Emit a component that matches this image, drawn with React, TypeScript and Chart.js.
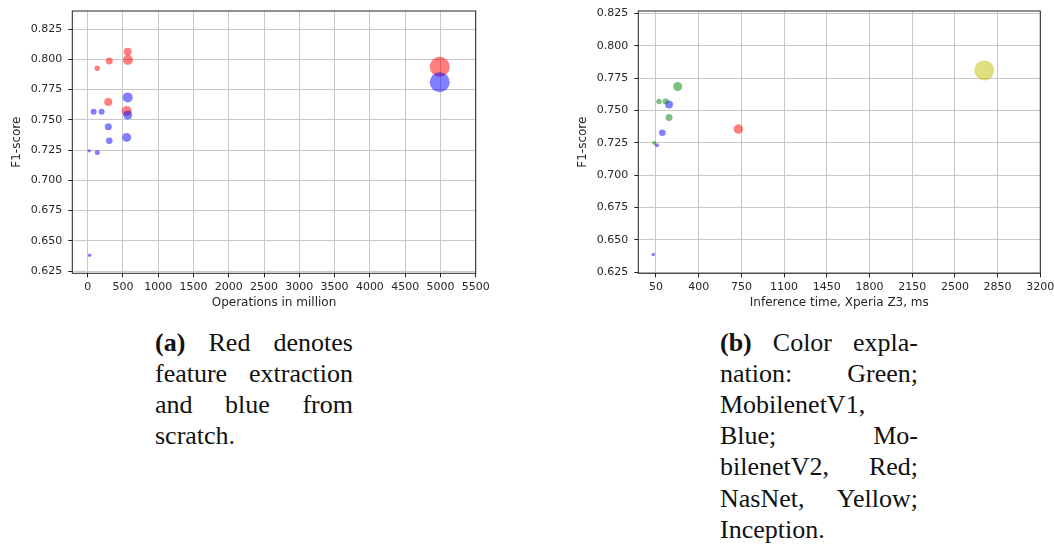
import React, { useEffect, useRef } from "react";
import { Chart, registerables } from "chart.js";
Chart.register(...registerables);

// ---------- Chart (a): Operations in million vs F1-score ----------
const opsTicks = [0, 500, 1000, 1500, 2000, 2500, 3000, 3500, 4000, 4500, 5000, 5500];
const f1TicksA = [0.625, 0.65, 0.675, 0.7, 0.725, 0.75, 0.775, 0.8, 0.825];

// red: feature extraction
const featOps = [567, 570, 136, 306, 292, 553, 4990];
const featF1 = [0.8063, 0.7994, 0.7926, 0.7986, 0.7647, 0.7572, 0.7938];
const featSize = [4, 5, 2.7, 3.5, 4, 5, 10];

// blue: from scratch
const scratchOps = [567, 85, 198, 567, 292, 306, 553, 23, 136, 28, 4990];
const scratchF1 = [0.7685, 0.7566, 0.7566, 0.7539, 0.7442, 0.7326, 0.7354, 0.7243, 0.723, 0.638, 0.781];
const scratchSize = [5, 3, 3, 4.5, 3.5, 3.3, 4.5, 1.7, 2.5, 1.7, 10];

// ---------- Chart (b): Inference time vs F1-score ----------
const timeTicks = [50, 400, 750, 1100, 1450, 1800, 2150, 2500, 2850, 3200];
const f1TicksB = [0.625, 0.65, 0.675, 0.7, 0.725, 0.75, 0.775, 0.8, 0.825];

const v1Time = [228, 75, 129, 157, 36];
const v1F1 = [0.7685, 0.7569, 0.7571, 0.7446, 0.7248];
const v1Size = [4.5, 2.7, 3, 3.5, 2];

const v2Time = [157, 102, 58, 28];
const v2F1 = [0.7546, 0.7328, 0.7232, 0.6387];
const v2Size = [4, 3.3, 2, 1.7];

const nasTime = [725];
const nasF1 = [0.7356];
const nasSize = [4.7];

const incTime = [2741];
const incF1 = [0.7809];
const incSize = [10];

const TICK_FONT = { family: "'DejaVu Sans', sans-serif", size: 11 };
const TITLE_FONT = { family: "'DejaVu Sans', sans-serif", size: 12 };
const TEXT = "#262626";

const pts = (xs: number[], ys: number[]) => xs.map((x, i) => ({ x, y: ys[i] }));

const frame = {
  id: "frame",
  afterDatasetsDraw(chart: any) {
    const { ctx, chartArea: a } = chart;
    ctx.save();
    ctx.strokeStyle = "#222";
    ctx.lineWidth = 1;
    ctx.strokeRect(a.left, a.top, a.right - a.left, a.bottom - a.top);
    ctx.restore();
  },
};

type Cfg = {
  datasets: any[];
  xTicks: number[];
  yTicks: number[];
  xMin: number;
  xMax: number;
  yMin: number;
  yMax: number;
  xTitle: string;
  yAxisWidth: number;
  yTitlePad: number;
  padRight: number;
};

function ScatterPanel({ cfg, width, height, left }: { cfg: Cfg; width: number; height: number; left: number }) {
  const ref = useRef<HTMLCanvasElement>(null);
  useEffect(() => {
    const zeroPad = (s: any) => {
      s.paddingLeft = 0;
      s.paddingRight = 0;
      s.paddingTop = 0;
      s.paddingBottom = 0;
    };
    const chart = new Chart(ref.current!, {
      type: "scatter",
      data: { datasets: cfg.datasets },
      plugins: [frame],
      options: {
        responsive: false,
        animation: false,
        layout: { padding: { top: 11, right: cfg.padRight, left: 0, bottom: 0 } },
        plugins: { legend: { display: false }, tooltip: { enabled: false } },
        elements: { point: { borderWidth: 0, hoverRadius: 0 } },
        scales: {
          x: {
            type: "linear",
            min: cfg.xMin,
            max: cfg.xMax,
            afterBuildTicks: (s: any) => {
              s.ticks = cfg.xTicks.map((v) => ({ value: v }));
            },
            afterFit: (s: any) => {
              s.height = height - 273.3;
              zeroPad(s);
            },
            border: { display: false },
            grid: { color: "#c8c8c8", lineWidth: 1, tickColor: "#222", tickLength: 4 },
            ticks: {
              font: TICK_FONT,
              color: TEXT,
              padding: 3,
              maxRotation: 0,
              autoSkip: false,
              callback: (v: any) => String(v),
            },
            title: { display: true, text: cfg.xTitle, font: TITLE_FONT, color: TEXT, padding: { top: 0, bottom: 4.8 } },
          },
          y: {
            type: "linear",
            min: cfg.yMin,
            max: cfg.yMax,
            afterBuildTicks: (s: any) => {
              s.ticks = cfg.yTicks.map((v) => ({ value: v }));
            },
            afterFit: (s: any) => {
              s.width = cfg.yAxisWidth;
              zeroPad(s);
            },
            border: { display: false },
            grid: { color: "#c8c8c8", lineWidth: 1, tickColor: "#222", tickLength: 4 },
            ticks: {
              font: TICK_FONT,
              color: TEXT,
              padding: 6,
              autoSkip: false,
              callback: (v: any) => Number(v).toFixed(3),
            },
            title: { display: true, text: "F1-score", font: TITLE_FONT, color: TEXT, padding: { top: cfg.yTitlePad, bottom: 0 } },
          },
        },
      },
    } as any);
    return () => chart.destroy();
  }, []);
  return (
    <canvas
      ref={ref}
      width={width}
      height={height}
      style={{ position: "absolute", left, top: 0, width, height, display: "block" }}
    />
  );
}

const ds = (xs: number[], ys: number[], r: number[], color: string) => ({
  data: pts(xs, ys),
  pointRadius: r,
  backgroundColor: color,
  borderWidth: 0,
});

const RED = "rgba(255,0,0,0.5)";
const BLUE = "rgba(0,0,255,0.5)";
const GREEN = "rgba(0,128,0,0.5)";
const YELLOW = "rgba(191,191,0,0.5)";

const cfgA: Cfg = {
  datasets: [ds(scratchOps, scratchF1, scratchSize, BLUE), ds(featOps, featF1, featSize, RED)],
  xTicks: opsTicks,
  yTicks: f1TicksA,
  xMin: -218,
  xMax: 5500,
  yMin: 0.6231,
  yMax: 0.8399,
  xTitle: "Operations in million",
  yAxisWidth: 72.3,
  yTitlePad: 9.5,
  padRight: 490 - 475.7,
};

const cfgB: Cfg = {
  datasets: [
    ds(v1Time, v1F1, v1Size, GREEN),
    ds(v2Time, v2F1, v2Size, BLUE),
    ds(nasTime, nasF1, nasSize, RED),
    ds(incTime, incF1, incSize, YELLOW),
  ],
  xTicks: timeTicks,
  yTicks: f1TicksB,
  xMin: -95,
  xMax: 3200,
  yMin: 0.6242,
  yMax: 0.8268,
  xTitle: "Inference time, Xperia Z3, ms",
  yAxisWidth: 68.3,
  yTitlePad: 6.1,
  padRight: 1054 - 570 - (1040.3 - 570),
};

const captionA = [["(a)", " Red denotes"], ["", "feature extraction"], ["", "and blue from"], ["", "scratch."]];
const captionB = [
  ["(b)", " Color expla-"],
  ["", "nation: Green;"],
  ["", "MobilenetV1,"],
  ["", "Blue; Mo-"],
  ["", "bilenetV2, Red;"],
  ["", "NasNet, Yellow;"],
  ["", "Inception."],
];

function Caption({ lines, left }: { lines: string[][]; left: number }) {
  return (
    <div
      style={{
        position: "absolute",
        left,
        top: 326.5,
        width: 198,
        fontFamily: "'Liberation Serif', 'Times New Roman', serif",
        fontSize: 26,
        lineHeight: "31.2px",
        color: "#111",
      }}
    >
      {lines.map((l, i) => {
        const last = i === lines.length - 1;
        return (
          <div
            key={i}
            style={{
              textAlign: last ? "left" : "justify",
              textAlignLast: last ? "left" : "justify",
              whiteSpace: "nowrap",
            } as any}
          >
            {l[0] && <b>{l[0]}</b>}
            {l[1]}
          </div>
        );
      })}
    </div>
  );
}

export default function App() {
  return (
    <div style={{ position: "absolute", left: 0, top: 0, width: 1054, height: 547, background: "#fff", overflow: "hidden" }}>
      <ScatterPanel cfg={cfgA} width={490} height={315} left={0} />
      <ScatterPanel cfg={cfgB} width={484} height={315} left={570} />
      <Caption lines={captionA} left={155} />
      <Caption lines={captionB} left={720} />
    </div>
  );
}
